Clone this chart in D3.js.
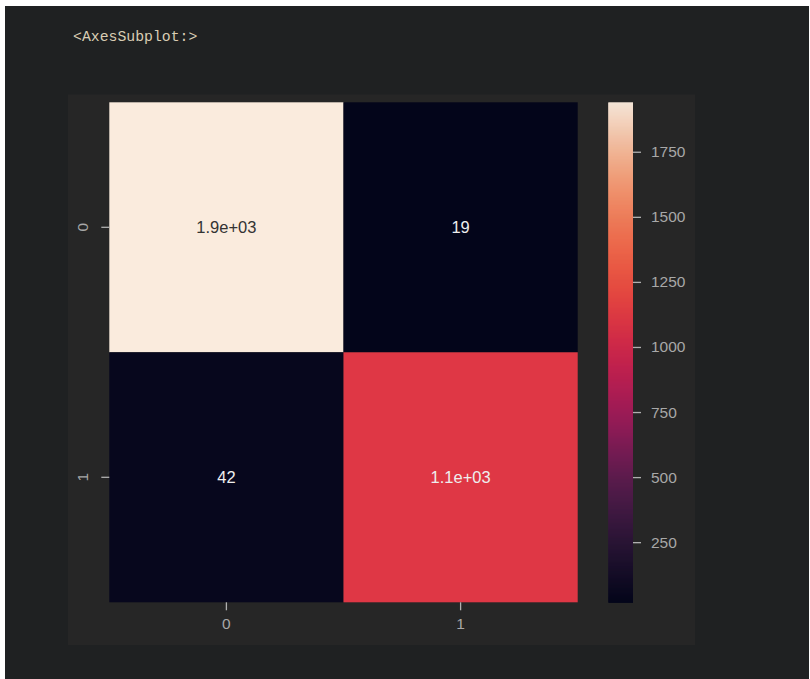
<!DOCTYPE html>
<html>
<head>
<meta charset="utf-8">
<script src="https://cdn.jsdelivr.net/npm/d3@7"></script>
<style>
  html, body { margin: 0; padding: 0; background: #ffffff; }
  svg { display: block; }
</style>
</head>
<body>
<svg id="chart" width="810" height="679"></svg>
<script>
// Confusion-matrix counts, row = actual class, column = predicted class
const rowLabels = ["0", "1"];
const colLabels = ["0", "1"];
const row0 = [1940, 19];
const row1 = [42, 1100];
const cellLabels = [["1.9e+03", "19"], ["42", "1.1e+03"]];
const colorbarTicks = [250, 500, 750, 1000, 1250, 1500, 1750];
const outputText = "<AxesSubplot:>";

// "rocket" style sequential colour ramp
const rocketStops = ["#03051A", "#2A1637", "#5B1E51", "#A11A5B", "#D1214C",
                     "#EE4B3C", "#F37651", "#F6AA82", "#FAEBDD"];

(function () {
  const matrix = [row0, row1];
  const allValues = matrix.flat();
  const vmin = d3.min(allValues), vmax = d3.max(allValues);

  const svg = d3.select("#chart");
  const sans = "'Liberation Sans', Arial, sans-serif";

  // notebook output area
  svg.append("rect").attr("x", 5).attr("y", 6).attr("width", 804).attr("height", 673)
    .attr("fill", "#1f2122");

  svg.append("text").attr("x", 73).attr("y", 41)
    .attr("font-family", "'Courier New', 'Liberation Mono', monospace")
    .attr("font-size", 14.8).attr("fill", "#d9cdb4")
    .text(outputText);

  // figure background
  svg.append("rect").attr("x", 68).attr("y", 94.5).attr("width", 627).attr("height", 550.5)
    .attr("fill", "#262626");

  const mLeft = 109.3, mTop = 102.3, mRight = 577.7, mBottom = 602.3;

  const x = d3.scaleBand().domain(colLabels).range([mLeft, mRight]);
  const y = d3.scaleBand().domain(rowLabels).range([mTop, mBottom]);
  const color = d3.scaleSequential(d3.interpolateRgbBasis(rocketStops)).domain([vmin, vmax]);

  const cells = [];
  matrix.forEach((row, i) => row.forEach((v, j) =>
    cells.push({ r: rowLabels[i], c: colLabels[j], v, label: cellLabels[i][j] })));

  svg.append("g").selectAll("rect").data(cells).join("rect")
    .attr("x", d => x(d.c)).attr("y", d => y(d.r))
    .attr("width", x.bandwidth()).attr("height", y.bandwidth())
    .attr("fill", d => color(d.v));

  svg.append("g").selectAll("text").data(cells).join("text")
    .attr("x", d => x(d.c) + x.bandwidth() / 2)
    .attr("y", d => y(d.r) + y.bandwidth() / 2)
    .attr("text-anchor", "middle").attr("dominant-baseline", "central")
    .attr("font-family", sans).attr("font-size", 16.5)
    .attr("fill", d => d3.hsl(color(d.v)).l > 0.6 ? "#333333" : "#eeeeee")
    .text(d => d.label);

  const tickColor = "#b0b0b0", labelColor = "#a8a8a8";

  // x axis
  const xAxis = svg.append("g").attr("transform", `translate(0,${mBottom})`)
    .call(d3.axisBottom(x).tickSize(8).tickPadding(8));
  xAxis.select(".domain").remove();
  xAxis.selectAll("line").attr("stroke", tickColor).attr("stroke-width", 1.3);
  xAxis.selectAll("text").attr("fill", labelColor).attr("font-size", 15.5)
    .attr("font-family", sans);

  // y axis, labels rotated vertically
  const yAxis = svg.append("g").attr("transform", `translate(${mLeft},0)`)
    .call(d3.axisLeft(y).tickSize(8).tickPadding(8));
  yAxis.select(".domain").remove();
  yAxis.selectAll("line").attr("stroke", tickColor).attr("stroke-width", 1.3);
  yAxis.selectAll("text").attr("fill", labelColor).attr("font-size", 15.5)
    .attr("font-family", sans)
    .attr("x", null).attr("dy", null)
    .attr("text-anchor", "middle").attr("dominant-baseline", "central")
    .attr("transform", "translate(-27,0) rotate(-90)");

  // colour bar
  const cbLeft = 608.3, cbWidth = 24.7;
  const cy = d3.scaleLinear().domain([vmin, vmax]).range([mBottom, mTop]);
  const steps = d3.range(0, 500);
  const stepH = (mBottom - mTop) / steps.length;
  svg.append("g").selectAll("rect").data(steps).join("rect")
    .attr("x", cbLeft).attr("width", cbWidth)
    .attr("y", i => mTop + i * stepH)
    .attr("height", stepH + 0.6)
    .attr("fill", i => color(cy.invert(mTop + (i + 0.5) * stepH)));

  const cAxis = svg.append("g").attr("transform", `translate(${cbLeft + cbWidth},0)`)
    .call(d3.axisRight(cy).tickValues(colorbarTicks).tickFormat(d3.format("d"))
      .tickSize(8).tickPadding(10));
  cAxis.select(".domain").remove();
  cAxis.selectAll("line").attr("stroke", tickColor).attr("stroke-width", 1.3);
  cAxis.selectAll("text").attr("fill", labelColor).attr("font-size", 15.5)
    .attr("font-family", sans);
})();
</script>
</body>
</html>
